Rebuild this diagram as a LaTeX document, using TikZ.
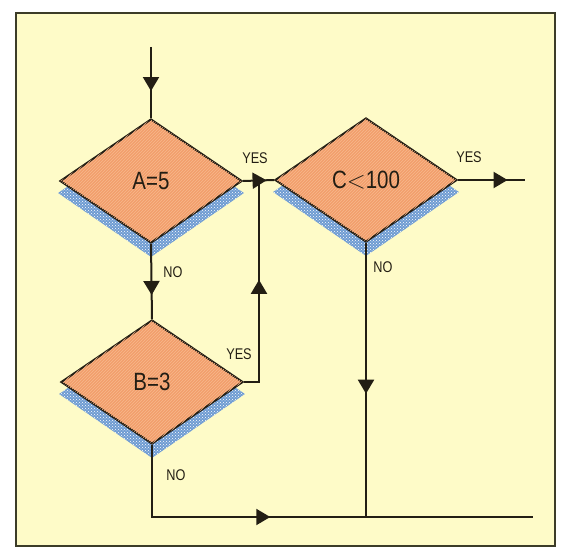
\documentclass[tikz,border=0pt]{standalone}
\usepackage{fontspec}
\setmainfont{Liberation Sans}[FakeStretch=0.82]
\usetikzlibrary{shapes.geometric,arrows.meta,decorations.markings,patterns,backgrounds}
\definecolor{paper}{RGB}{254,251,200}
\definecolor{framec}{RGB}{60,60,40}
\definecolor{orangec}{RGB}{242,158,108}
\definecolor{stripec}{RGB}{248,184,140}
\definecolor{shadowc}{RGB}{110,155,210}
\definecolor{inkc}{RGB}{35,30,20}
\tikzset{
  dia/.style={diamond, draw=inkc, line width=2pt, inner sep=0pt,
    minimum width=182pt, minimum height=124pt,
    fill=orangec, postaction={pattern=north east lines, pattern color=stripec},
    font=\fontsize{25}{27}\selectfont, text=inkc},
  shadowdia/.style={diamond, inner sep=0pt, minimum width=186pt, minimum height=128pt,
    fill=shadowc, postaction={pattern=crosshatch dots, pattern color=white}},
  conn/.style={draw=inkc, line width=2pt},
  midarr/.style={postaction={decorate}, decoration={markings,
    mark=at position #1 with {\arrow{Triangle[length=14pt,width=16pt]}}}},
  lbl/.style={font=\fontsize{15.5}{17}\selectfont, text=inkc, inner sep=0pt},
}
\begin{document}
\begin{tikzpicture}[x=1pt,y=-1pt]
\useasboundingbox (0,0) rectangle (565,551);
% diamonds
\node[dia] (A) at (151,181) {A=5};
\node[dia] (C) at (366,180) {C$<$100};
\node[dia] (B) at (152,382) {B=3};
\begin{scope}[on background layer]
  \fill[white] (0,0) rectangle (565,551);
  \filldraw[fill=paper, draw=framec, line width=2pt] (16,13) rectangle (555,546);
  \node[shadowdia] at ([yshift=-12pt]A.center) {};
  \node[shadowdia] at ([yshift=-12pt]C.center) {};
  \node[shadowdia] at ([yshift=-12pt]B.center) {};
\end{scope}
% coordinates
\coordinate (in) at (151,47);
\coordinate (byes) at (259,382);
\coordinate (byesup) at (259,180);
\coordinate (cout) at (525,180);
\coordinate (cbot) at (C.south |- 0,517);
\coordinate (bbot) at (B.south |- 0,517);
\coordinate (out2) at (533,517);
% connectors
\path[conn, midarr=0.62] (in) -- (A.north);
\path[conn, midarr=0.68] (A.south) -- (B.north);
\path[conn, midarr=0.76] (A.east) -- (C.west);
\path[conn, midarr=0.54] (B.east) -- (byes) -- (byesup);
\path[conn, midarr=0.74] (C.east) -- (cout);
\path[conn, midarr=0.55] (C.south) -- (cbot);
\path[conn, midarr=0.42] (B.south) -- (bbot) -- (out2);
% labels
\node[lbl] (l1) at (255,158) {YES};
\node[lbl] (l2) at (469,157) {YES};
\node[lbl] (l3) at (239,354) {YES};
\node[lbl] (l4) at (173,272) {NO};
\node[lbl] (l5) at (383,267) {NO};
\node[lbl] (l6) at (176,475) {NO};
\end{tikzpicture}
\end{document}
